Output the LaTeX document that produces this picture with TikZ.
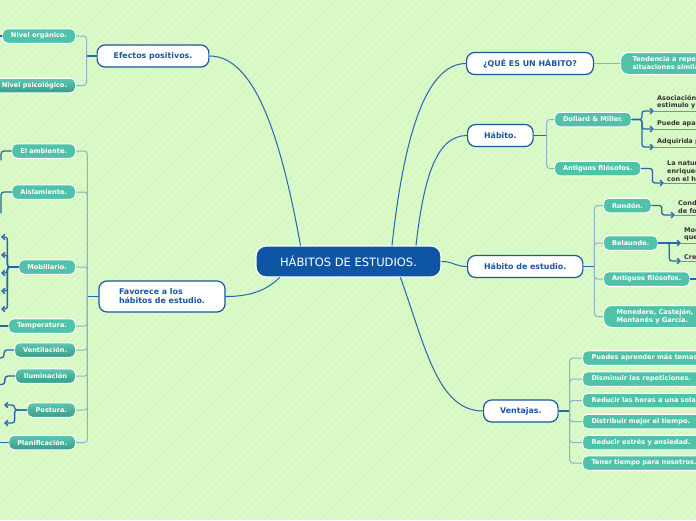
\documentclass[tikz,border=0pt]{standalone}
\usepackage{fontspec}
\setmainfont{DejaVu Sans}
\usetikzlibrary{arrows.meta}

\definecolor{bgcol}{RGB}{218,250,200}
\definecolor{stripecol}{RGB}{207,241,192}
\definecolor{hubblue}{RGB}{14,85,163}
\definecolor{topblue}{RGB}{26,85,160}
\definecolor{subteal}{RGB}{80,194,168}
\definecolor{subtop}{RGB}{92,200,176}
\definecolor{subbot}{RGB}{58,156,134}
\definecolor{linkblue}{RGB}{37,102,173}
\definecolor{litelink}{RGB}{140,180,198}
\definecolor{floattxt}{RGB}{51,51,51}

\begin{document}
\begin{tikzpicture}[x=1pt,y=-1pt,line join=round,line cap=round,>={Straight Barb[length=3pt,width=5.5pt]}]
\tikzset{
  hubbox/.style={draw=white,line width=1.2pt,fill=hubblue,text=white,rounded corners=10pt,
    minimum height=31pt,inner xsep=24pt,font=\fontsize{11.5}{13}\selectfont},
  topic/.style={draw=topblue,line width=1.2pt,fill=white,text=topblue,rounded corners=8pt,
    minimum height=22pt,inner xsep=16.5pt,font=\bfseries\fontsize{7.9}{9}\selectfont},
  sub/.style={draw=white,line width=1pt,fill=subteal,text=white,rounded corners=5pt,
    minimum height=14.5pt,inner xsep=8.5pt,inner ysep=2pt,font=\bfseries\fontsize{6.6}{8}\selectfont},
  subg/.style={sub,top color=subtop,bottom color=subbot},
  flt/.style={text=floattxt,inner xsep=3pt,inner ysep=1.5pt,align=left,font=\bfseries\fontsize{6.5}{7.8}\selectfont},
  link/.style={draw=linkblue,line width=1pt},
  lite/.style={draw=litelink,line width=1pt,rounded corners=3pt},
  stub/.style={draw=linkblue,line width=1.3pt,rounded corners=3pt},
  arr/.style={draw=linkblue,line width=1.3pt,rounded corners=2.5pt,->},
  uline/.style={draw=linkblue!70,line width=0.8pt}
}
\useasboundingbox (0,0) rectangle (696,520);
\clip (0,0) rectangle (696,520);
\fill[bgcol] (0,0) rectangle (696,520);
\foreach \i in {-520,-513,...,696}
  \draw[stripecol,line width=0.5pt] (\i,520) -- ++(520,-520);

% centre
\node[hubbox] (hub) at (348.5,261.5) {HÁBITOS DE ESTUDIOS.};

% main topics
\node[topic] (efe) at (153,56) {Efectos positivos.};
\node[topic,align=left,minimum height=31pt,inner xsep=20pt] (fav) at (162,296.5) {Favorece a los\\hábitos de estudio.};
\node[topic,anchor=west] (que) at (466,63.5) {¿QUÉ ES UN HÁBITO?};
\node[topic,anchor=west] (hab) at (467,135.5) {Hábito.};
\node[topic,anchor=west] (est) at (467,266.5) {Hábito de estudio.};
\node[topic,anchor=west] (vnt) at (483,411) {Ventajas.};

\draw[link] ([xshift=-48pt]hub.north) .. controls +(-20,-110) and +(45,0) .. (efe.east);
\draw[link] ([xshift=-69pt]hub.south) .. controls +(-15,15) and +(20,0) .. (fav.east);
\draw[link] ([xshift=43.5pt]hub.north) .. controls +(12,-110) and +(-40,0) .. (que.west);
\draw[link] ([xshift=67.5pt]hub.north) .. controls +(8,-70) and +(-30,0) .. (hab.west);
\draw[link] (hub.east) .. controls +(12,0) and +(-12,0) .. (est.west);
\draw[link] ([xshift=52pt]hub.south) .. controls +(25,70) and +(-45,0) .. (vnt.west);

% left side
\node[sub,anchor=east] (niv1) at (76,36) {Nivel orgánico.};
\node[subg,anchor=east] (niv2) at (76,85.5) {Nivel psicológico.};
\draw[stub] (efe.west) -- ++(-10,0) coordinate (es);
\foreach \c in {niv1,niv2}
  \draw[lite] (es) |- (\c.east);

\node[sub,anchor=east] (amb) at (76,151) {El ambiente.};
\node[sub,anchor=east] (ais) at (76,192) {Aislamiento.};
\node[sub,anchor=east] (mob) at (76,267) {Mobiliario.};
\node[sub,anchor=east] (tem) at (76,326) {Temperatura.};
\node[subg,anchor=east] (ven) at (76,350) {Ventilación.};
\node[subg,anchor=east] (ilu) at (76,376) {Iluminación};
\node[subg,anchor=east] (pos) at (76,410) {Postura.};
\node[subg,anchor=east] (pla) at (76,442.5) {Planificación.};
\draw[stub] (fav.west) -- ++(-11,0) coordinate (fs);
\foreach \c in {amb,ais,mob,tem,ven,ilu,pos,pla}
  \draw[lite] (fs) |- (\c.east);

% left, going off the page
\coordinate (e0) at (-2,36);
\coordinate (a1) at (1,160);
\coordinate (a2) at (1,213);
\coordinate (e1) at (-2,326);
\coordinate (e2) at (-2,358);
\coordinate (e3) at (-2,384.5);
\coordinate (e4) at (-2,442.5);
\foreach \n/\y in {1/237,2/255,3/273,4/291,5/309}
  \coordinate (m\n) at (1,\y);
\coordinate (p1) at (4,405);
\coordinate (p2) at (4,423);

\draw[stub] (niv1.west) -- (e0);
\draw[stub] (amb.west) -| (a1);
\draw[stub] (ais.west) -| (a2);
\foreach \n in {1,...,5}
  \draw[arr] (mob.west) -- ++(-11,0) |- (m\n);
\draw[stub] (tem.west) -- (e1);
\draw[stub] (ven.west) -- ++(-10,0) |- (e2);
\draw[stub] (ilu.west) -- ++(-10,0) |- (e3);
\foreach \n in {1,2}
  \draw[arr] (pos.west) -- ++(-12,0) |- (p\n);
\draw[stub] (pla.west) -- (e4);

% right side
\node[sub,anchor=west,align=left,minimum height=22pt,inner xsep=12pt,rounded corners=8pt] (ten) at (620,63.5) {Tendencia a repetir\\situaciones similares};
\draw[lite] (que.east) -- (ten.west);

\node[sub,anchor=west] (dol) at (554,119.5) {Dollard \& Miller.};
\node[sub,anchor=west] (ant) at (554,168.5) {Antiguos filósofos.};
\draw[stub] (hab.east) -- ++(13,0) coordinate (hs);
\foreach \c in {dol,ant}
  \draw[lite] (hs) |- (\c.west);

\node[flt,anchor=south west] (t1) at (654,111) {Asociación entre\\estimulo y respuesta.};
\node[flt,anchor=south west] (t2) at (654,129) {Puede aparecer};
\node[flt,anchor=south west] (t3) at (654,147) {Adquirida por};
\node[flt,anchor=south west] (t4) at (664,183) {La naturaleza\\enriquece\\con el hábito};
\foreach \t in {t1,t2,t3}
  \draw[arr] (dol.east) -- ++(10,0) |- (\t.south west);
\draw[arr] (ant.east) -- ++(11,0) |- (t4.south west);

\node[sub,anchor=west] (ron) at (603,205.5) {Rondón.};
\node[sub,anchor=west] (bel) at (603,243) {Belaunde.};
\node[sub,anchor=west] (ant2) at (603,279) {Antiguos filósofos.};
\node[sub,anchor=west,align=left,minimum height=22pt,inner xsep=13pt,rounded corners=8pt] (mon) at (603,316.5) {Monedero, Castejón,\\Montanés y García.};
\draw[stub] (est.east) -- ++(11,0) coordinate (ss);
\foreach \c in {ron,bel,ant2,mon}
  \draw[lite] (ss) |- (\c.west);

\node[flt,anchor=south west] (t5) at (675,215) {Condición\\de formación};
\node[flt,anchor=south west] (t6) at (681,243) {Modo\\que};
\node[flt,anchor=south west] (t7) at (681,261) {Crea};
\draw[arr] (ron.east) -- ++(10,0) |- (t5.south west);
\draw[arr] (bel.east) -- (t6.south west);
\draw[arr] (bel.east) -- ++(11,0) |- (t7.south west);
\coordinate (x1) at (702,279);
\draw[stub] (ant2.east) -- (x1);

\foreach \t in {t1,t2,t3,t4,t5,t6,t7}
  \draw[uline] (\t.south west) -- (\t.south east);

\foreach \n/\y/\txt in {1/358/Puedes aprender más temas.,2/379/Disminuir las repeticiones.,
    3/400.5/Reducir las horas a una sola vez.,4/421.5/Distribuir mejor el tiempo.,
    5/442.5/Reducir estrés y ansiedad.,6/463/Tener tiempo para nosotros.}
  \node[sub,anchor=west,text width=140pt,inner xsep=9pt,align=left] (v\n) at (582,\y) {\txt};
\draw[stub] (vnt.east) -- ++(11,0) coordinate (vs);
\foreach \n in {1,...,6}
  \draw[lite] (vs) |- (v\n.west);
\end{tikzpicture}
\end{document}
